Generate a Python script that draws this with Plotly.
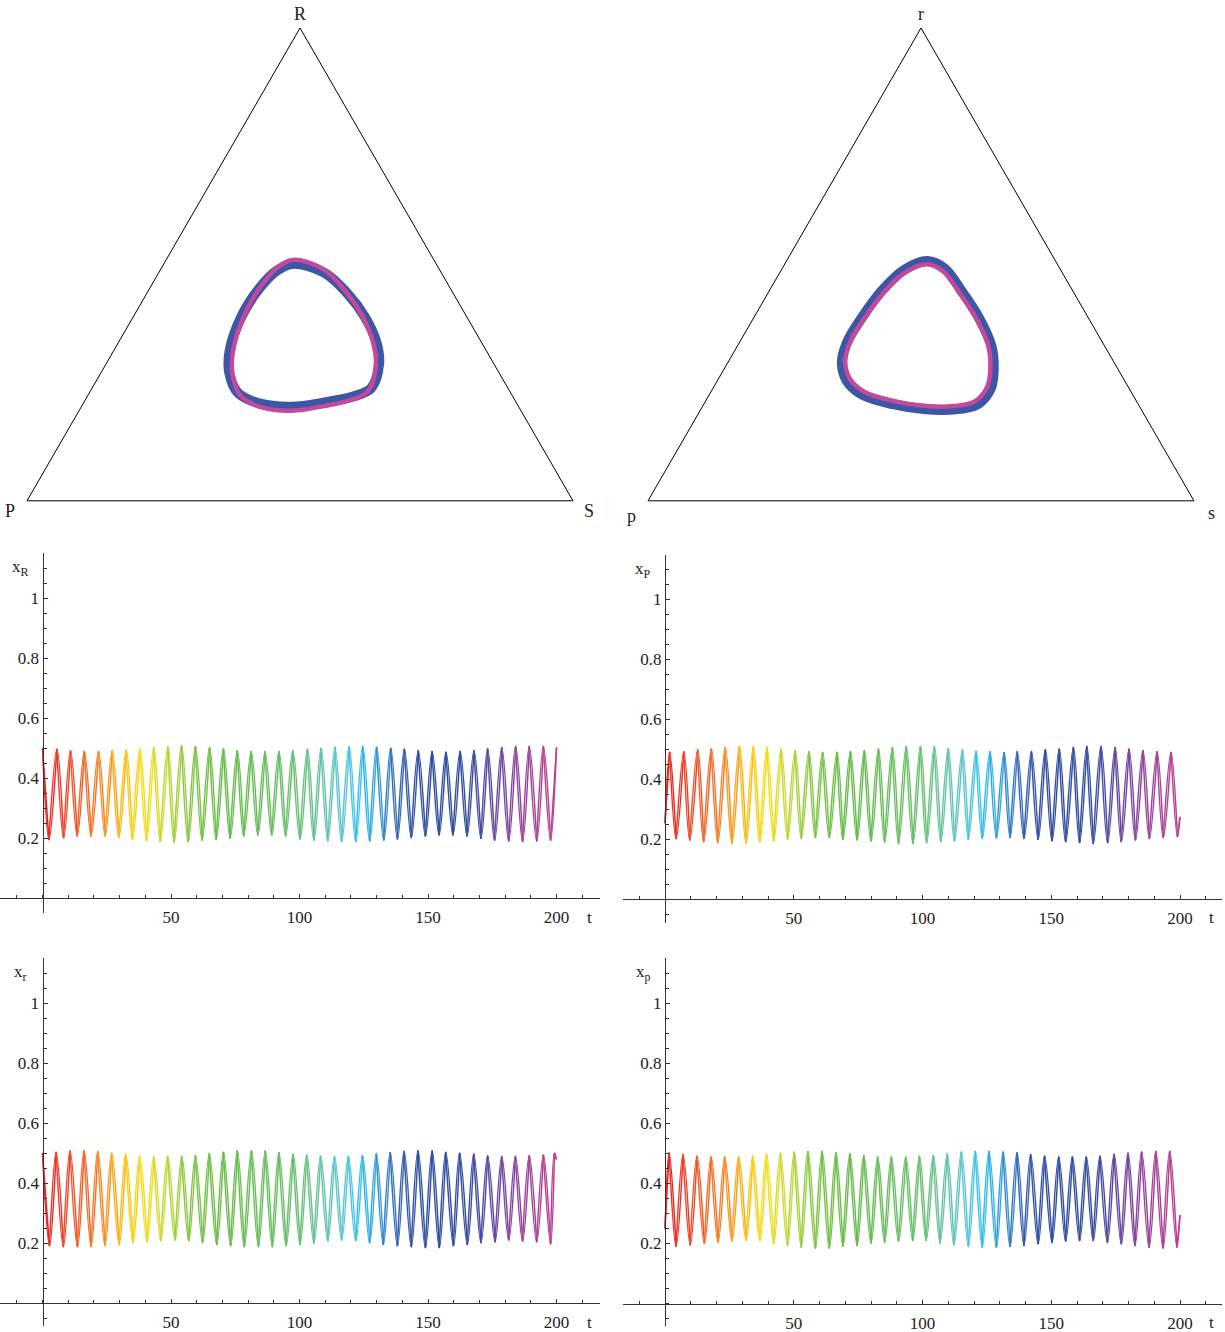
import plotly.graph_objects as go

W, H = 1225, 1332

# ---------------------------------------------------------------------------
# Limit cycle of the two populations on their simplices.  Early passes (blue)
# and late passes (magenta) of the trajectory; shares of R and S (resp. r, s),
# the third share is 1 minus the other two.
early_R = [0.5010, 0.4830, 0.4383, 0.3902, 0.3352, 0.2906, 0.2387, 0.2211, 0.2081, 0.1991,
           0.2061, 0.2288, 0.2712, 0.3166, 0.3882, 0.4486, 0.4857]
early_S = [0.2350, 0.3019, 0.3679, 0.4230, 0.4724, 0.4997, 0.5113, 0.4883, 0.4406, 0.3848,
           0.3221, 0.2715, 0.2348, 0.2127, 0.1980, 0.2008, 0.2135]
late_R = [0.5095, 0.4906, 0.4433, 0.3926, 0.3344, 0.2873, 0.2324, 0.2139, 0.2002, 0.1906,
          0.1980, 0.2220, 0.2669, 0.3148, 0.3904, 0.4542, 0.4934]
late_S = [0.2317, 0.2965, 0.3619, 0.4169, 0.4669, 0.4953, 0.5090, 0.4879, 0.4430, 0.3901,
          0.3297, 0.2803, 0.2430, 0.2196, 0.2020, 0.2016, 0.2119]

early_r = [0.5071, 0.4892, 0.4461, 0.3885, 0.3345, 0.2914, 0.2534, 0.2245, 0.2044, 0.1943,
           0.1930, 0.2044, 0.2375, 0.2806, 0.3274, 0.3850, 0.4461, 0.4914]
early_s = [0.2583, 0.2256, 0.2066, 0.1981, 0.1970, 0.2093, 0.2376, 0.2801, 0.3462, 0.4073,
           0.4640, 0.5019, 0.5090, 0.4930, 0.4653, 0.4147, 0.3499, 0.2974]
late_r = [0.5001, 0.4830, 0.4418, 0.3867, 0.3352, 0.2939, 0.2576, 0.2300, 0.2108, 0.2011,
          0.1999, 0.2108, 0.2424, 0.2836, 0.3284, 0.3834, 0.4418, 0.4851]
late_s = [0.2610, 0.2298, 0.2117, 0.2035, 0.2025, 0.2142, 0.2412, 0.2818, 0.3450, 0.4034,
          0.4576, 0.4939, 0.5006, 0.4854, 0.4589, 0.4105, 0.3486, 0.2984]

# ---------------------------------------------------------------------------
# Time series: successive turning points (start, troughs/peaks, end).
t_R = [0, 2.5, 5.6, 8.2, 10.9, 13.5, 16.3, 18.9, 21.8, 24.4, 27.1, 29.7, 32.6, 35.0, 37.9, 40.5,
       43.3, 45.8, 48.8, 51.2, 54.1, 56.7, 59.5, 62.1, 65.0, 67.6, 70.4, 73.0, 75.8, 78.3, 81.2,
       83.8, 86.6, 89.2, 92.0, 94.6, 97.4,
       100.2, 103.1, 105.6, 108.4, 111.0, 113.8, 116.4, 119.3, 121.9, 124.6, 127.3, 130.0, 132.8,
       135.5, 138.1, 140.8, 143.5, 146.2, 149.0, 151.6, 154.3, 157.0, 159.7, 162.5, 165.2, 167.9,
       170.6, 173.2, 175.9, 178.7, 181.4, 184.1, 186.8, 189.4, 192.3, 194.9, 197.7, 200.0]
x_R = [0.500, 0.194, 0.497, 0.200, 0.492, 0.206, 0.489, 0.206, 0.489, 0.206, 0.492, 0.201, 0.494,
       0.194, 0.498, 0.190, 0.503, 0.187, 0.506, 0.184, 0.508, 0.187, 0.506, 0.192, 0.502, 0.194,
       0.498, 0.198, 0.492, 0.206, 0.489, 0.209, 0.489, 0.209, 0.489, 0.206, 0.492,
       0.196, 0.497, 0.192, 0.500, 0.189, 0.503, 0.187, 0.506, 0.187, 0.506, 0.189, 0.503, 0.192,
       0.500, 0.196, 0.497, 0.201, 0.492, 0.206, 0.489, 0.209, 0.487, 0.209, 0.489, 0.206, 0.492,
       0.198, 0.498, 0.192, 0.502, 0.189, 0.506, 0.187, 0.506, 0.189, 0.506, 0.192, 0.502]

t_P = [0, 1.8, 4.3, 7.3, 9.6, 12.7, 15.0, 18.0, 20.5, 23.4, 26.0, 28.9, 31.5, 34.3, 36.8, 39.6,
       42.2, 45.1, 47.6, 50.5, 52.9, 55.9, 58.4, 61.2, 63.8, 66.8, 69.1, 72.0, 74.6, 77.4, 80.0,
       82.9, 85.3, 88.3, 90.7, 93.7, 96.3, 99.2,
       101.6, 104.6, 107.1, 110.0, 112.4, 115.5, 117.8, 120.8, 123.2, 126.2, 128.7, 131.7, 134.0,
       136.8, 139.4, 142.3, 144.9, 147.7, 150.3, 153.1, 155.6, 158.6, 161.0, 163.8, 166.3, 169.3,
       171.9, 174.8, 177.2, 180.2, 182.7, 185.6, 188.1, 191.1, 193.5, 196.5, 199.0, 200.0]
x_P = [0.252, 0.490, 0.200, 0.492, 0.196, 0.498, 0.190, 0.501, 0.187, 0.506, 0.184, 0.509, 0.184,
       0.509, 0.187, 0.506, 0.193, 0.501, 0.198, 0.496, 0.201, 0.492, 0.204, 0.490, 0.204, 0.490,
       0.198, 0.492, 0.196, 0.496, 0.192, 0.501, 0.189, 0.506, 0.184, 0.509, 0.184, 0.509,
       0.187, 0.509, 0.190, 0.503, 0.193, 0.498, 0.198, 0.494, 0.201, 0.492, 0.203, 0.489, 0.204,
       0.492, 0.201, 0.492, 0.198, 0.498, 0.193, 0.501, 0.190, 0.506, 0.187, 0.509, 0.184, 0.509,
       0.187, 0.506, 0.190, 0.501, 0.196, 0.496, 0.201, 0.492, 0.204, 0.490, 0.207, 0.274]

t_r = [0, 2.7, 5.3, 8.1, 10.7, 13.6, 16.2, 18.9, 21.5, 24.3, 26.9, 29.8, 32.4, 35.2, 37.8, 40.7,
       43.3, 46.0, 48.7, 51.6, 54.2, 56.9, 59.5, 62.3, 64.9, 67.8, 70.4, 73.2, 75.8, 78.5, 81.3,
       84.0, 86.7, 89.4, 92.0, 94.8, 97.5,
       100.2, 102.8, 105.6, 108.2, 111.0, 113.6, 116.4, 119.0, 121.9, 124.5, 127.3, 129.9, 132.6,
       135.3, 138.1, 140.7, 143.5, 146.1, 149.0, 151.6, 154.4, 156.9, 159.9, 162.3, 165.3, 167.8,
       170.6, 173.2, 176.1, 178.7, 181.4, 184.0, 186.8, 189.4, 192.3, 194.9, 197.7, 199.2, 200.0]
x_r = [0.500, 0.190, 0.503, 0.187, 0.508, 0.187, 0.508, 0.187, 0.506, 0.190, 0.500, 0.194, 0.497,
       0.200, 0.491, 0.203, 0.489, 0.207, 0.489, 0.209, 0.489, 0.207, 0.492, 0.201, 0.498, 0.194,
       0.503, 0.190, 0.508, 0.187, 0.508, 0.187, 0.508, 0.187, 0.502, 0.190, 0.497,
       0.194, 0.494, 0.198, 0.491, 0.206, 0.489, 0.209, 0.489, 0.207, 0.492, 0.200, 0.498, 0.194,
       0.502, 0.190, 0.506, 0.187, 0.508, 0.184, 0.508, 0.184, 0.503, 0.190, 0.500, 0.194, 0.497,
       0.200, 0.491, 0.203, 0.489, 0.209, 0.489, 0.206, 0.492, 0.203, 0.494, 0.196, 0.500, 0.478]

t_p = [0, 1.6, 4.3, 7.0, 9.8, 12.4, 15.3, 17.9, 20.6, 23.2, 26.0, 28.6, 31.5, 34.1, 36.8, 39.4,
       42.2, 44.8, 47.6, 50.2, 52.9, 55.5, 58.4, 61.0, 63.8, 66.4, 69.1, 71.8, 74.6, 77.2, 80.0,
       82.6, 85.3, 87.9, 90.7, 93.5, 96.2, 98.8,
       101.4, 104.2, 106.8, 109.6, 112.2, 115.1, 117.8, 120.5, 123.2, 125.8, 128.7, 131.3, 134.0,
       136.7, 139.4, 142.0, 144.9, 147.4, 150.3, 152.9, 155.6, 158.2, 161.0, 163.6, 166.3, 168.9,
       171.8, 174.4, 177.2, 179.8, 182.5, 185.1, 188.0, 190.6, 193.4, 196.0, 198.8, 200.0]
x_p = [0.250, 0.503, 0.190, 0.497, 0.194, 0.492, 0.200, 0.489, 0.203, 0.489, 0.207, 0.489, 0.209,
       0.492, 0.207, 0.498, 0.198, 0.502, 0.192, 0.506, 0.187, 0.508, 0.184, 0.508, 0.184, 0.503,
       0.190, 0.500, 0.192, 0.494, 0.200, 0.489, 0.203, 0.489, 0.207, 0.489, 0.209, 0.492,
       0.209, 0.494, 0.200, 0.500, 0.194, 0.506, 0.190, 0.508, 0.187, 0.508, 0.187, 0.506, 0.189,
       0.503, 0.192, 0.497, 0.198, 0.492, 0.203, 0.489, 0.207, 0.489, 0.209, 0.489, 0.209, 0.492,
       0.203, 0.498, 0.198, 0.502, 0.192, 0.506, 0.187, 0.508, 0.184, 0.508, 0.187, 0.295]

# time colouring of the trajectories
hue_t = [0, 10, 22, 33, 40, 48, 58, 70, 100, 108, 118, 124, 130, 140, 148, 165, 173, 180, 188, 200]
hue_c = ['#e52229', '#ee4a2a', '#f3822a', '#fbc515', '#f7e21a', '#c5d83a', '#80c548', '#68bc48',
         '#69c070', '#6ac3a3', '#5ac6dc', '#2ec4f1', '#389fdc', '#3a5fae', '#304ea0', '#34509f',
         '#574aa2', '#7847a1', '#9d429d', '#c0428f']

orbit_colours = ['#3d56a6', '#c4489b']

x_ticks = [50, 100, 150, 200]
y_ticks = [0.2, 0.4, 0.6, 0.8, 1.0]
y_ticktext = ['0.2', '0.4', '0.6', '0.8', '1']

FONT = 'Liberation Serif'
INK = '#222'


def hex_rgb(h):
    return tuple(int(h[i:i + 2], 16) for i in (1, 3, 5))


def colour_at(t):
    for k in range(len(hue_t) - 1):
        if hue_t[k] <= t <= hue_t[k + 1]:
            f = (t - hue_t[k]) / (hue_t[k + 1] - hue_t[k])
            a, b = hex_rgb(hue_c[k]), hex_rgb(hue_c[k + 1])
            return 'rgb(%d,%d,%d)' % tuple(round(a[j] + (b[j] - a[j]) * f) for j in range(3))
    return hue_c[-1]


fig = go.Figure()

# ---------------------------------------------------------------- simplices
def add_loop(A, C, subplot, colour, width):
    a = list(A) + [A[0]]
    c = list(C) + [C[0]]
    b = [1 - ai - ci for ai, ci in zip(a, c)]
    fig.add_trace(go.Scatterternary(a=a, b=b, c=c, mode='lines', subplot=subplot,
                                    line=dict(color=colour, width=width, shape='spline'),
                                    hoverinfo='skip', showlegend=False))


add_loop(early_R, early_S, 'ternary', orbit_colours[0], 10)
add_loop(late_R, late_S, 'ternary', orbit_colours[1], 4.5)
add_loop(early_r, early_s, 'ternary2', orbit_colours[0], 10)
add_loop(late_r, late_s, 'ternary2', orbit_colours[1], 4.5)

tern_axis = dict(showgrid=False, showticklabels=False, ticks='', showline=True,
                 linecolor='black', linewidth=1, title=dict(text=''))


def tern_layout(x0, x1, y0, y1):
    return dict(domain=dict(x=[x0 / W, x1 / W], y=[1 - y1 / H, 1 - y0 / H]),
                bgcolor='white', sum=1,
                aaxis=tern_axis, baxis=tern_axis, caxis=tern_axis)


# ---------------------------------------------------------------- time plots
# pixel boxes: x-extent, t=0 position, px per unit t, y-extent, zero line, px per unit x
panels = [
    dict(t=t_R, v=x_R, label='x<sub>R</sub>', box=(0, 600, 42.5, 2.57, 553, 913, 898.0, 300.0)),
    dict(t=t_P, v=x_P, label='x<sub>P</sub>', box=(623, 1222, 665.0, 2.575, 555, 923, 899.0, 300.0)),
    dict(t=t_r, v=x_r, label='x<sub>r</sub>', box=(0, 600, 42.5, 2.57, 958, 1326, 1303.0, 300.0)),
    dict(t=t_p, v=x_p, label='x<sub>p</sub>', box=(623, 1222, 665.0, 2.575, 958, 1326, 1303.5, 300.0)),
]

layout_axes = {}
annotations = []
for i, p in enumerate(panels, start=1):
    assert len(p['t']) == len(p['v'])
    xl, xr, t0px, tsc, yt, yb, y0px, ysc = p['box']
    xrange = [(xl - t0px) / tsc, (xr - t0px) / tsc]
    yrange = [(y0px - yb) / ysc, (y0px - yt) / ysc]
    xdom = [xl / W, xr / W]
    ydom = [1 - yb / H, 1 - yt / H]
    xpos = xdom[0] + (0 - xrange[0]) / (xrange[1] - xrange[0]) * (xdom[1] - xdom[0])
    ypos = ydom[0] + (0 - yrange[0]) / (yrange[1] - yrange[0]) * (ydom[1] - ydom[0])
    xa, ya = ('x%d' % i if i > 1 else 'x'), ('y%d' % i if i > 1 else 'y')
    layout_axes['xaxis%d' % i if i > 1 else 'xaxis'] = dict(
        domain=xdom, range=xrange, anchor='free', position=ypos, showgrid=False, zeroline=False,
        showline=True, linecolor='#333', linewidth=1,
        tickvals=x_ticks, ticks='inside', ticklen=4, tickcolor='#333', ticklabelstandoff=4,
        tickfont=dict(family=FONT, size=17, color=INK),
        minor=dict(dtick=10, tick0=0, ticks='inside', ticklen=3, tickcolor='#333', showgrid=False))
    layout_axes['yaxis%d' % i if i > 1 else 'yaxis'] = dict(
        domain=ydom, range=yrange, anchor='free', position=xpos, showgrid=False, zeroline=False,
        showline=True, linecolor='#333', linewidth=1,
        tickvals=y_ticks, ticktext=y_ticktext, ticks='inside', ticklen=4, tickcolor='#333',
        tickfont=dict(family=FONT, size=17, color=INK),
        minor=dict(dtick=0.05, tick0=0, ticks='inside', ticklen=3, tickcolor='#333', showgrid=False))

    tt, vv = p['t'], p['v']
    n = len(tt)
    for k in range(n):
        lo, hi = max(0, k - 1), min(n, k + 2)
        fig.add_trace(go.Scatter(x=tt[lo:hi], y=vv[lo:hi], xaxis=xa, yaxis=ya, mode='lines',
                                 line=dict(color=colour_at(tt[k]), width=1.5, shape='spline'),
                                 hoverinfo='skip', showlegend=False))

    annotations.append(dict(text=p['label'], x=(t0px - 22) / W, y=1 - (yt + 15) / H))
    annotations.append(dict(text='t', x=(xr - 11) / W, y=1 - (y0px + 19) / H))

# vertex labels of the simplices
for txt, px, py in [('R', 300, 14), ('P', 10, 511), ('S', 589, 511),
                    ('r', 921, 14), ('p', 631, 516), ('s', 1211, 513)]:
    annotations.append(dict(text=txt, x=px / W, y=1 - py / H, font_size=18))

for ann in annotations:
    ann.update(xref='paper', yref='paper', showarrow=False, xanchor='center', yanchor='middle')
    ann['font'] = dict(family=FONT, size=ann.pop('font_size', 17), color=INK)

fig.update_layout(
    width=W, height=H, margin=dict(l=0, r=0, t=0, b=0),
    paper_bgcolor='white', plot_bgcolor='white',
    ternary=tern_layout(27, 573, 28, 500.8),
    ternary2=tern_layout(648, 1194, 28, 500.8),
    annotations=annotations,
    **layout_axes,
)

fig.write_html('out.html')
